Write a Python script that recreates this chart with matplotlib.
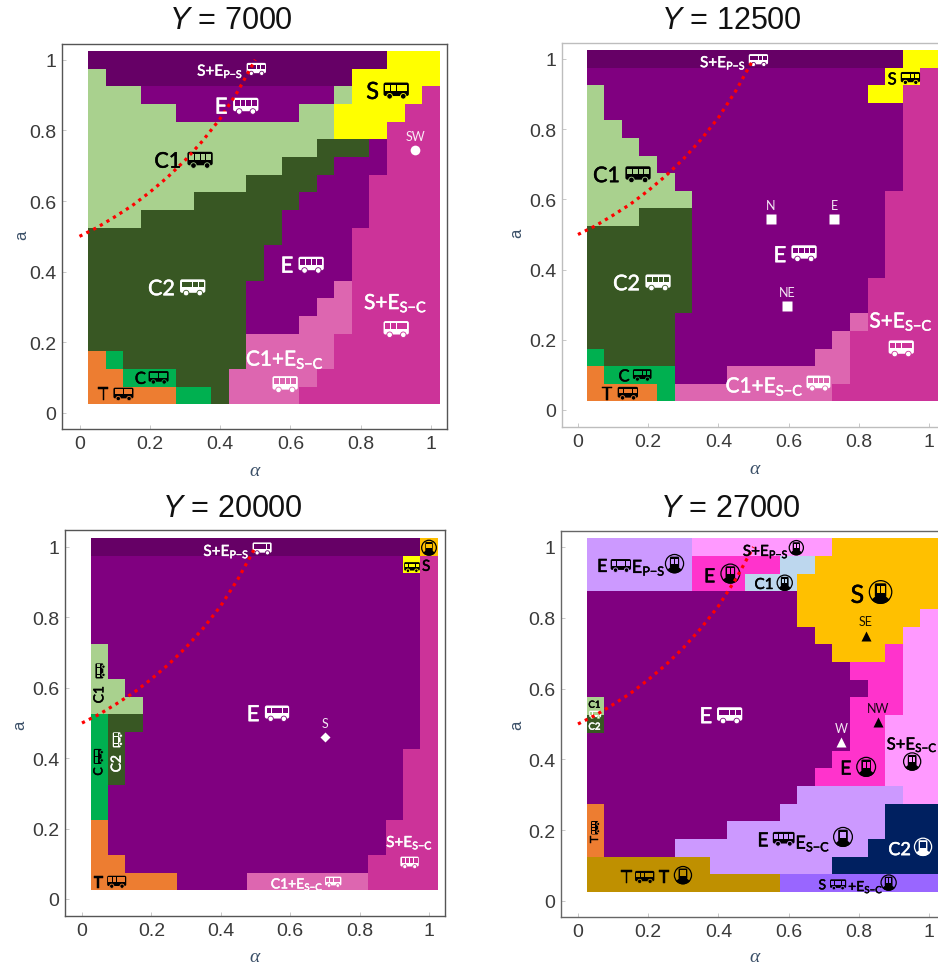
import numpy as np
import matplotlib
matplotlib.use("Agg")
import matplotlib.pyplot as plt
import matplotlib.patheffects as pe
from matplotlib.colors import ListedColormap
from matplotlib.patches import FancyBboxPatch, Rectangle, Circle, Wedge
from matplotlib.transforms import Affine2D

plt.rcParams.update({
    "font.family": "Liberation Sans",
    "mathtext.fontset": "custom",
    "mathtext.rm": "Lato",
    "mathtext.it": "Liberation Sans:italic",
    "mathtext.bf": "Lato:bold",
    "mathtext.default": "rm",
})

# ---------- data -----------------------------------------------------------
COLORS = {
    "P": "#660066", "E": "#800080", "L": "#A9D18E", "D": "#385723",
    "G": "#00B050", "O": "#ED7D31", "Y": "#FFFF00", "M": "#CC3399",
    "K": "#DD66B0", "H": "#FFC000", "A": "#CC99FF", "B": "#FF33CC",
    "C": "#FF99FF", "F": "#BDD7EE", "N": "#002060", "Q": "#BF9000",
    "R": "#9966FF",
}
TITLES = ["7000", "12500", "20000", "27000"]
TICKS = [0, 0.2, 0.4, 0.6, 0.8, 1]
TICK_LABELS = ["0", "0.2", "0.4", "0.6", "0.8", "1"]
CURVE_ALPHA = [0, .05, .10, .15, .20, .25, .30, .35, .40, .45, .50]
CURVE_A = [.50, .525, .555, .587, .625, .667, .715, .77, .833, .91, 1.0]

# rows run from a = 1.0 down to a = 0.05; columns from alpha = 0.05 to 1.0
GRID_7000 = [
    "PPPPPPPPPPPPPPPPPYYY",
    "LPPPPPPPPPPPPPPYYYYY",
    "LLLEEEEEEEEEEELYYYYM",
    "LLLLLEEEEEEELLYYYYMM",
    "LLLLLLLLLLLLLLYYYMMM",
    "LLLLLLLLLLLLLDDDEMMM",
    "LLLLLLLLLLLDDDEEEMMM",
    "LLLLLLLLLDDDDEEEMMMM",
    "LLLLLLDDDDDDEEEEMMMM",
    "LLLDDDDDDDDEEEEEMMMM",
    "DDDDDDDDDDDEEEEMMMMM",
    "DDDDDDDDDDEEEEEMMMMM",
    "DDDDDDDDDDEEEEEMMMMM",
    "DDDDDDDDDEEEEEKMMMMM",
    "DDDDDDDDDEEEEKKMMMMM",
    "DDDDDDDDDEEEKKKMMMMM",
    "DDDDDDDDDKKKKKMMMMMM",
    "OGDDDDDDDKKKKKMMMMMM",
    "OOGGGDDDKKKKKMMMMMMM",
    "OOOOOGGDKKKKMMMMMMMM",
]
GRID_12500 = [
    "PPPPPPPPPPPPPPPPPPYY",
    "EEEEEEEEEEEEEEEEEYYM",
    "LEEEEEEEEEEEEEEEYYMM",
    "LEEEEEEEEEEEEEEEEEMM",
    "LLEEEEEEEEEEEEEEEEMM",
    "LLLEEEEEEEEEEEEEEEMM",
    "LLLLEEEEEEEEEEEEEEMM",
    "LLLLLEEEEEEEEEEEEEMM",
    "LLLLLLEEEEEEEEEEEMMM",
    "LLLDDDEEEEEEEEEEEMMM",
    "DDDDDDEEEEEEEEEEEMMM",
    "DDDDDDEEEEEEEEEEEMMM",
    "DDDDDDEEEEEEEEEEEMMM",
    "DDDDDDEEEEEEEEEEMMMM",
    "DDDDDDEEEEEEEEEEMMMM",
    "DDDDDEEEEEEEEEEKMMMM",
    "DDDDDEEEEEEEEEKMMMMM",
    "GDDDDEEEEEEEEKKMMMMM",
    "OGGGGEEEKKKKKKKMMMMM",
    "OOOOGKKKKKKKKKMMMMMM",
]
GRID_20000 = [
    "PPPPPPPPPPPPPPPPPPPH",
    "EEEEEEEEEEEEEEEEEEYM",
    "EEEEEEEEEEEEEEEEEEEM",
    "EEEEEEEEEEEEEEEEEEEM",
    "EEEEEEEEEEEEEEEEEEEM",
    "EEEEEEEEEEEEEEEEEEEM",
    "LEEEEEEEEEEEEEEEEEEM",
    "LEEEEEEEEEEEEEEEEEEM",
    "LLEEEEEEEEEEEEEEEEEM",
    "LLLEEEEEEEEEEEEEEEEM",
    "GDDEEEEEEEEEEEEEEEEM",
    "GDEEEEEEEEEEEEEEEEEM",
    "GDEEEEEEEEEEEEEEEEMM",
    "GDEEEEEEEEEEEEEEEEMM",
    "GEEEEEEEEEEEEEEEEEMM",
    "GEEEEEEEEEEEEEEEEEMM",
    "OEEEEEEEEEEEEEEEEMMM",
    "OEEEEEEEEEEEEEEEEMMM",
    "OOEEEEEEEEEEEEEEMMMM",
    "OOOOOEEEEKKKKKKKMMMM",
]
GRID_27000 = [
    "AAAAAACCCCCCCCHHHHHH",
    "AAAAAABBBBBFFHHHHHHH",
    "AAAAAABBBFFFHHHHHHHH",
    "EEEEEEEEEEEEHHHHHHHH",
    "EEEEEEEEEEEEHHHHHHHC",
    "EEEEEEEEEEEEEHHHHHCC",
    "EEEEEEEEEEEEEEHHHBCC",
    "EEEEEEEEEEEEEEEBBBCC",
    "EEEEEEEEEEEEEEEEBBCC",
    "LEEEEEEEEEEEEEEBBBCC",
    "DEEEEEEEEEEEEEEBBCCC",
    "EEEEEEEEEEEEEEEBBCCC",
    "EEEEEEEEEEEEEEBBBCCC",
    "EEEEEEEEEEEEEBBBBCCC",
    "EEEEEEEEEEEEAAAAAACC",
    "OEEEEEEEEEEAAAAAANNN",
    "OEEEEEEEAAAAAAAAANNN",
    "OEEEEAAAAAAAAAAANNNN",
    "QQQQQQQAAAAAAANNNNNN",
    "QQQQQQQQQQQRRRRRRRRR",
]
GRIDS = [GRID_7000, GRID_12500, GRID_20000, GRID_27000]

# x, y, text, colour, size (pt), rotation
LABELS_7000 = [
    (.400, .973, "S+E$_{P{-}S}$", "w", 11, 0), (.403, .870, "E", "w", 16, 0),
    (.834, .913, "S", "k", 17, 0), (.251, .717, "C1", "k", 15.5, 0),
    (.233, .356, "C2", "w", 15.5, 0), (.590, .420, "E", "w", 16, 0),
    (.900, .318, "S+E$_{S{-}C}$", "w", 15, 0), (.585, .158, "C1+E$_{S{-}C}$", "w", 15, 0),
    (.173, .101, "C", "k", 12, 0), (.068, .054, "T", "k", 13, 0),
]
LABELS_12500 = [
    (.413, .995, "S+E$_{P{-}S}$", "w", 11, 0), (.895, .946, "S", "k", 12, 0),
    (.081, .672, "C1", "k", 15.5, 0), (.138, .364, "C2", "w", 15.5, 0),
    (.575, .444, "E", "w", 16, 0), (.921, .259, "S+E$_{S{-}C}$", "w", 15, 0),
    (.532, .074, "C1+E$_{S{-}C}$", "w", 15, 0), (.131, .100, "C", "k", 12, 0),
    (.083, .048, "T", "k", 13, 0),
]
LABELS_20000 = [
    (.416, .993, "S+E$_{P{-}S}$", "w", 11, 0), (.493, .528, "E", "w", 16, 0),
    (.992, .948, "S", "k", 11, 0), (.050, .591, "C1", "k", 10, 90),
    (.100, .395, "C2", "w", 10, 90), (.047, .360, "C", "k", 9, 90),
    (.047, .049, "T", "k", 12, 0), (.620, .047, "C1+E$_{S{-}C}$", "w", 10, 0),
    (.944, .166, "S+E$_{S{-}C}$", "w", 11, 0),
]
LABELS_27000 = [
    (.069, .948, "E", "k", 13, 0), (.201, .948, "E$_{P{-}S}$", "k", 13, 0),
    (.535, .993, "S+E$_{P{-}S}$", "k", 11, 0), (.375, .920, "E", "k", 14, 0),
    (.530, .897, "C1", "k", 11, 0), (.796, .869, "S", "k", 18, 0),
    (.364, .525, "E", "w", 16, 0), (.047, .556, "C1", "k", 7, 0),
    (.047, .494, "C2", "w", 7, 0), (.952, .449, "S+E$_{S{-}C}$", "k", 12, 0),
    (.763, .377, "E", "k", 14, 0), (.527, .174, "E", "k", 14, 0),
    (.669, .169, "E$_{S{-}C}$", "k", 13, 0), (.916, .148, "C2", "w", 13, 0),
    (.047, .169, "T", "k", 9, 90), (.138, .068, "T", "k", 13, 0),
    (.245, .068, "T", "k", 13, 0), (.696, .047, "S", "k", 10, 0),
    (.820, .045, "+E$_{S{-}C}$", "k", 10, 0),
]
LABELS = [LABELS_7000, LABELS_12500, LABELS_20000, LABELS_27000]

# kind, x, y, width (data units), colour, rotation
ICONS_7000 = [
    ("bus", .503, .974, .055, "w", 0), ("bus", .473, .870, .072, "w", 0),
    ("bus", .901, .913, .072, "k", 0), ("bus", .343, .717, .072, "k", 0),
    ("bus", .322, .356, .072, "w", 0), ("bus", .659, .420, .072, "w", 0),
    ("bus", .901, .238, .072, "w", 0), ("bus", .585, .082, .072, "w", 0),
    ("bus", .225, .101, .057, "k", 0), ("bus", .125, .054, .057, "k", 0),
]
ICONS_12500 = [
    ("bus", .514, .997, .055, "w", 0), ("bus", .947, .946, .055, "k", 0),
    ("bus", .171, .672, .072, "k", 0), ("bus", .228, .364, .072, "w", 0),
    ("bus", .644, .447, .072, "w", 0), ("bus", .921, .176, .072, "w", 0),
    ("bus", .685, .077, .068, "w", 0), ("bus", .183, .100, .053, "k", 0),
    ("bus", .142, .048, .058, "k", 0),
]
ICONS_20000 = [
    ("bus", .519, .996, .055, "w", 0), ("bus", .562, .528, .070, "w", 0),
    ("bus", .951, .943, .045, "k", 0), ("tram", 1.0, .998, .045, "k", 0),
    ("bus", .052, .648, .043, "k", 90), ("bus", .102, .452, .043, "w", 90),
    ("bus", .047, .405, .043, "k", 90), ("bus", .100, .049, .055, "k", 0),
    ("bus", .724, .049, .047, "w", 0), ("bus", .944, .104, .053, "w", 0),
]
ICONS_27000 = [
    ("bus", .122, .948, .058, "k", 0), ("tram", .275, .953, .055, "k", 0),
    ("tram", .622, .998, .043, "k", 0), ("tram", .434, .925, .057, "k", 0),
    ("tram", .589, .899, .046, "k", 0), ("tram", .862, .873, .068, "k", 0),
    ("bus", .432, .525, .072, "w", 0), ("bus", .049, .527, .034, "w", 0),
    ("tram", .952, .394, .052, "k", 0), ("tram", .821, .379, .057, "k", 0),
    ("bus", .586, .176, .062, "k", 0), ("tram", .755, .181, .057, "k", 0),
    ("tram", .983, .153, .052, "w", 0), ("bus", .049, .207, .038, "k", 90),
    ("bus", .190, .068, .055, "k", 0), ("tram", .299, .073, .052, "k", 0),
    ("bus", .741, .047, .046, "k", 0), ("tram", .885, .052, .046, "k", 0),
]
ICONS = [ICONS_7000, ICONS_12500, ICONS_20000, ICONS_27000]

# x, y, name, marker, colour
POINTS = [
    [(.955, .745, "SW", "o", "w")],
    [(.550, .545, "N", "s", "w"), (.730, .545, "E", "s", "w"), (.595, .295, "NE", "s", "w")],
    [(.700, .460, "S", "D", "w")],
    [(.820, .750, "SE", "^", "k"), (.750, .450, "W", "^", "w"), (.855, .505, "NW", "^", "k")],
]

# ---------- layout (pixels of the 938x970 image) ----------------------------
W, H = 938, 970
# left, right, top, bottom, x0, x1, y1, y0
FRAMES = [
    (62, 447, 45, 430, 79.5, 431, 60.7, 414),
    (562, 948, 44, 428, 578, 929, 60, 411),
    (65, 445, 531, 917, 82, 429, 548, 900),
    (561, 948, 532, 918, 578, 929, 548, 902),
]
SPINE = ["#555555", "#bdbdbd", "#555555", "#666666"]
TITLE_XY = [(231, 21), (731, 21), (232, 509), (730, 509)]
XLABEL_XY = [(255, 472), (755, 469), (255, 958), (755, 958)]
YLABEL_XY = [(22, 235), (517, 233), (20, 725), (517, 725)]

fig = plt.figure(figsize=(W / 100, H / 100), dpi=100, facecolor="white")


def bus(ax, x, y, w, col, rot, bg):
    tr = Affine2D().scale(w).rotate_deg(rot).translate(x, y) + ax.transData
    h = .62
    ax.add_patch(FancyBboxPatch((-.5, -h / 2 + .09), 1, h - .09,
                                boxstyle="round,pad=0,rounding_size=.08",
                                fc=col, ec="none", transform=tr, zorder=5))
    for i in range(4):
        ax.add_patch(Rectangle((-.43 + i * .225, -.01), .19, .23, fc=bg, ec="none",
                               transform=tr, zorder=6))
    for cx in (-.26, .28):
        ax.add_patch(Circle((cx, -h / 2 + .08), .11, fc=col, ec=bg, lw=.6,
                            transform=tr, zorder=7))


def tram(ax, x, y, w, col, rot, bg):
    tr = Affine2D().scale(w).rotate_deg(rot).translate(x, y) + ax.transData
    ax.add_patch(Circle((0, 0), .47, fc="none", ec=col, lw=.9, transform=tr, zorder=5))
    ax.add_patch(Wedge((0, 0), .5, 220, 320, fc=col, ec="none", transform=tr, zorder=5))
    ax.add_patch(Rectangle((-.25, -.3), .5, .04, fc=col, ec="none", transform=tr, zorder=5))
    ax.add_patch(FancyBboxPatch((-.24, -.22), .48, .58,
                                boxstyle="round,pad=0,rounding_size=.06",
                                fc=col, ec="none", transform=tr, zorder=6))
    ax.add_patch(Rectangle((-.17, -.04), .34, .3, fc=bg, ec="none", transform=tr, zorder=7))
    ax.add_patch(Rectangle((-.02, -.04), .04, .3, fc=col, ec="none", transform=tr, zorder=8))


for idx, frame in enumerate(FRAMES):
    left, right, top, bottom, x0, x1, y1, y0 = frame
    ax = fig.add_axes([left / W, 1 - bottom / H, (right - left) / W, (bottom - top) / H])
    ax.set_xlim((left - x0) / (x1 - x0), (right - x0) / (x1 - x0))
    ax.set_ylim((y0 - bottom) / (y0 - y1), (y0 - top) / (y0 - y1))

    rows = GRIDS[idx]
    keys = list(COLORS)
    matrix = np.array([[keys.index(c) for c in r] for r in rows[::-1]])
    edges = np.arange(21) * .05 + .025
    ax.pcolormesh(edges, edges, matrix, cmap=ListedColormap([COLORS[k] for k in keys]),
                  vmin=-.5, vmax=len(keys) - .5, antialiased=False, zorder=1)

    ax.plot(CURVE_ALPHA, CURVE_A, color="#FF0000", lw=2.3, ls=(0, (1, 1.4)), zorder=8)

    for x, y, txt, col, size, rot in LABELS[idx]:
        t = ax.text(x, y, txt, color=col, fontsize=size, rotation=rot, family="Lato",
                    ha="center", va="center_baseline", zorder=9)
        t.set_path_effects([pe.withStroke(linewidth=.35, foreground=col)])
    for kind, x, y, w, col, rot in ICONS[idx]:
        i = min(int((1.025 - y) / .05), 19)
        j = min(int((x - .025) / .05), 19)
        bg = COLORS[rows[i][j]]
        (bus if kind == "bus" else tram)(ax, x, y, w, col, rot, bg)
    for x, y, name, mk, col in POINTS[idx]:
        ax.plot([x], [y], marker=mk, ms=7 if mk != "D" else 5, color=col, mec="none", zorder=9)
        ax.text(x, y + .04, name, color=col, fontsize=9, family="Lato",
                ha="center", va="center", zorder=9, alpha=.9)

    ax.set_xticks(TICKS, TICK_LABELS)
    ax.set_yticks(TICKS, TICK_LABELS)
    ax.tick_params(direction="in", length=3, width=.7, color="#c8c8c8",
                   labelsize=14, labelcolor="#3a3a3a", pad=4)
    for s in ax.spines.values():
        s.set_color(SPINE[idx])
        s.set_linewidth(1.0)

    tx, ty = TITLE_XY[idx]
    fig.text(tx / W, 1 - ty / H, "$\\mathit{Y}$ = " + TITLES[idx], fontsize=22, color="#111111",
             ha="center", va="center")
    lx, ly = XLABEL_XY[idx]
    fig.text(lx / W, 1 - ly / H, "\u03b1", fontsize=14, color="#3b5068", style="italic",
             family="Liberation Serif", ha="center", va="center")
    lx, ly = YLABEL_XY[idx]
    fig.text(lx / W, 1 - ly / H, "a", fontsize=12, color="#3b5068", rotation=90,
             ha="center", va="center")

fig.savefig("out.png", dpi=100, facecolor="white")
